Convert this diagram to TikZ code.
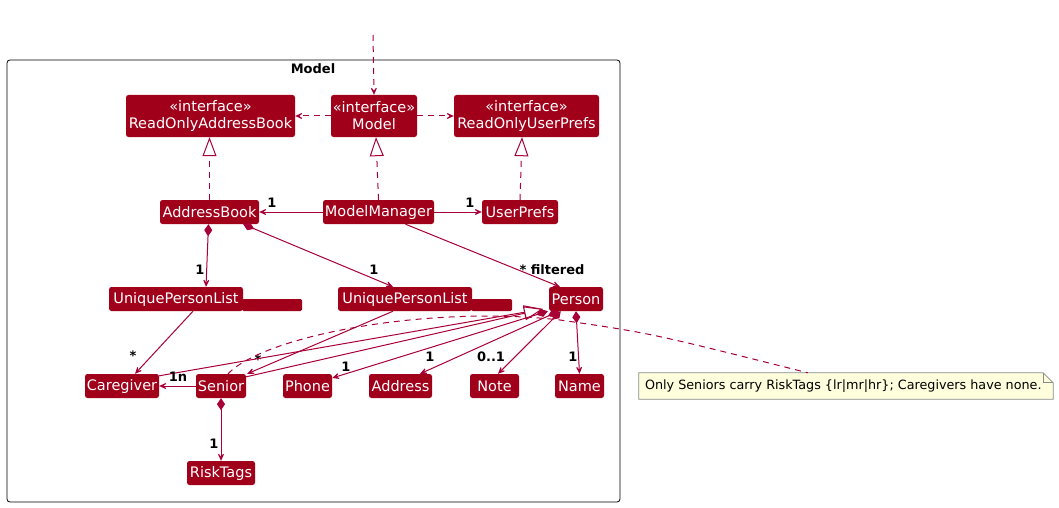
\documentclass[tikz,border=0pt]{standalone}
\usepackage{fontspec}
\setmainfont{DejaVu Sans}
\usetikzlibrary{arrows.meta,calc}
\definecolor{boxred}{HTML}{A0001A}
\definecolor{linered}{HTML}{A80036}
\definecolor{notefill}{HTML}{FEFEDD}
\definecolor{notedraw}{HTML}{8A8A8A}
\begin{document}
\begin{tikzpicture}[x=1pt,y=-1pt,
  cls/.style={fill=boxred, text=white, rounded corners=2.5pt, inner sep=0pt,
    font=\fontsize{14.5}{17}\selectfont, align=center, minimum height=24},
  conn/.style={draw=linered, line width=1pt},
  headtip/.style={-{Stealth[length=11pt,width=10pt,inset=7pt]}},
  dep/.style={conn, dash pattern=on 6pt off 5pt, headtip},
  real/.style={conn, dash pattern=on 6pt off 5pt, -{Triangle[open,length=19pt,width=14pt,fill=white]}},
  inh/.style={conn, -{Triangle[open,length=19pt,width=14pt,fill=white]}},
  comp/.style={conn, {Diamond[length=12pt,width=8pt]}-{Stealth[length=11pt,width=10pt,inset=7pt]}},
  lab/.style={font=\fontsize{13}{15}\selectfont\bfseries, inner sep=0pt},
]
\useasboundingbox (0,0) rectangle (1059,508);
\fill[white] (0,0) rectangle (1059,508);

% frame
\node[draw=black, line width=0.8pt, rounded corners=3pt, minimum width=613, minimum height=442, inner sep=0pt] (frame) at (313.5,281) {};
\node[lab] (frametitle) at (313,69) {Model};

% interfaces
\node[cls, minimum width=169, minimum height=42] (roab) at (210.5,116) {«interface»\\ReadOnlyAddressBook};
\node[cls, minimum width=86, minimum height=42] (model) at (374,116) {«interface»\\Model};
\node[cls, minimum width=145, minimum height=42] (roup) at (526.5,116) {«interface»\\ReadOnlyUserPrefs};

% classes
\node[cls, minimum width=99] (ab) at (209.5,212) {AddressBook};
\node[cls, minimum width=111] (mm) at (378.5,212) {ModelManager};
\node[cls, minimum width=76] (up) at (520,212) {UserPrefs};

\fill[boxred, rounded corners=1.5pt] (242,299) rectangle (302,311);
\node[cls, minimum width=134] (upl1) at (176,299) {UniquePersonList};
\fill[boxred, rounded corners=1.5pt] (471,299) rectangle (512,311);
\node[cls, minimum width=134] (upl2) at (405,299) {UniquePersonList};
\node[cls, minimum width=54] (person) at (576,299) {Person};

\node[cls, minimum width=74] (cg) at (122,386) {Caregiver};
\node[cls, minimum width=50] (sen) at (221,386) {Senior};
\node[cls, minimum width=49] (phone) at (307.5,386) {Phone};
\node[cls, minimum width=63] (addr) at (400.5,386) {Address};
\node[cls, minimum width=49] (notecls) at (494.5,386) {Note};
\node[cls, minimum width=49] (name) at (579.5,386) {Name};
\node[cls, minimum width=68] (risk) at (221,473) {RiskTags};

% note
\node[inner sep=0pt, minimum width=414, minimum height=26] (note) at (846,386) {};
\draw[fill=notefill, draw=notedraw, line width=0.8pt]
  (note.north west) -- ($(note.north east)+(-10,0)$) -- ($(note.north east)+(0,10)$)
  -- (note.south east) -- (note.south west) -- cycle;
\draw[draw=notedraw, line width=0.8pt] ($(note.north east)+(-10,0)$) -- ($(note.north east)+(-10,10)$) -- ($(note.north east)+(0,10)$);
\node[font=\fontsize{12.75}{15}\selectfont, anchor=west, inner sep=0pt] (notetext) at ($(note.west)+(6,0)$) {Only Seniors carry RiskTags \{lr|mr|hr\}; Caregivers have none.};

% top dependency
\coordinate (top) at (373,35);
\draw[dep] (top) -- (model.north);
\draw[dep] (model.west) -- (roab.east);
\draw[dep] (model.east) -- (roup.west);

% realizations
\draw[real] (ab.north) -- (ab.north |- roab.south);
\draw[real] (mm.north) -- ($(model.south)+(2,0)$);
\draw[real] (up.north) -- ($(up.north |- roup.south)+(2,0)$);

% model manager associations
\draw[conn, headtip] (mm.west) -- (ab.east);
\node[lab] (l1) at (272,203) {1};
\draw[conn, headtip] (mm.east) -- (up.west);
\node[lab] (l2) at (470,203) {1};
\draw[conn, headtip] ($(mm.south)+(27,0)$) -- ($(person.north west)+(11,0)$);
\node[lab] (l3) at (552,270) {* filtered};

% address book compositions
\draw[comp] ($(ab.south)+(-1,0)$) -- ($(upl1.north)+(30,0)$);
\node[lab] (l4) at (200,270) {1};
\draw[comp] ($(ab.south east)+(-16,0)$) -- ($(upl2.north)+(-12,0)$);
\node[lab] (l5) at (374,270) {1};

% unique person lists
\draw[conn, headtip] ($(upl1.south)+(17,0)$) -- ($(cg.north)+(13,0)$);
\node[lab] (l6) at (133,356) {*};
\draw[conn, headtip] ($(upl2.south)+(-12,0)$) -- ($(sen.north east)+(1,0)$);
\node[lab] (l7) at (258,360) {*};

% note link
\draw[conn, dash pattern=on 6pt off 5pt]
  ($(sen.north)+(7,0)$) .. controls (265,335) and (430,305) .. (560,320)
  .. controls (650,333) .. ($(note.north west)+(169,0)$);

% inheritance to person
\coordinate (pin) at (543,309);
\draw[inh] ($(cg.north east)+(0,2)$) -- (pin);
\draw[inh] ($(sen.north east)+(0,3)$) -- (pin);

% person compositions
\draw[comp] ($(person.south west)+(-1,0)$) -- ($(phone.east)+(0,-8)$);
\node[lab] (l8) at (346,367) {1};
\draw[comp] ($(person.south west)+(10,0)$) -- ($(addr.north)+(19.5,0)$);
\node[lab] (l9) at (430,357) {1};
\draw[comp] ($(person.south west)+(12,0)$) -- ($(notecls.north)+(3.5,0)$);
\node[lab] (l10) at (491,357) {0..1};
\draw[comp] ($(person.south)+(0,0)$) -- (name.north);
\node[lab] (l11) at (573,357) {1};

% senior
\draw[conn, headtip] (sen.west) -- (cg.east);
\node[lab] (l12) at (178,377) {1n};
\draw[comp] (sen.south) -- (risk.north);
\node[lab] (l13) at (214,444) {1};
\end{tikzpicture}
\end{document}
